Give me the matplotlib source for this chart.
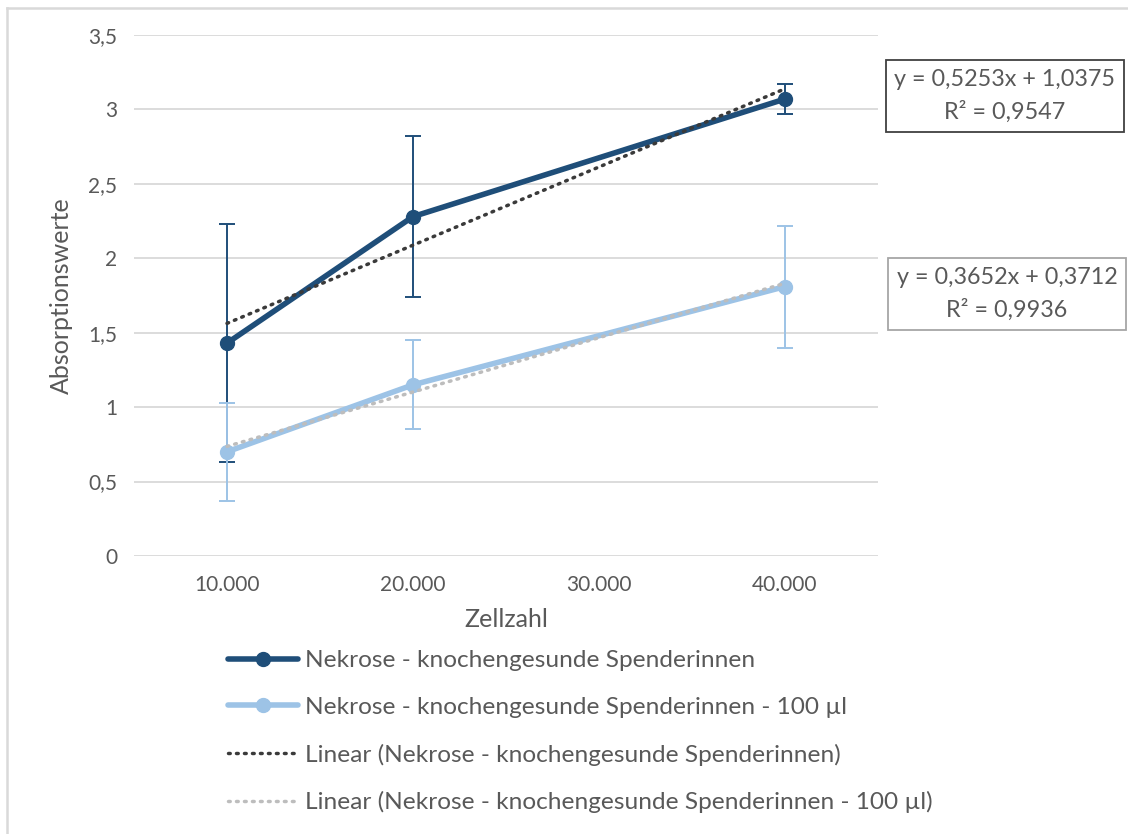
import matplotlib
matplotlib.use("Agg")
import matplotlib.pyplot as plt
from matplotlib.lines import Line2D
import numpy as np

plt.rcParams['font.family'] = ['Lato', 'DejaVu Sans']

# ---- data ----
x_positions = [1, 2, 4]
x_tick_pos = [1, 2, 3, 4]
x_tick_labels = ['10.000', '20.000', '30.000', '40.000']
y_ticks = [0, 0.5, 1, 1.5, 2, 2.5, 3, 3.5]
y_tick_labels = ['0', '0,5', '1', '1,5', '2', '2,5', '3', '3,5']

series1_name = 'Nekrose - knochengesunde Spenderinnen'
series1_values = [1.43, 2.28, 3.07]
series1_err = [0.80, 0.54, 0.10]
series2_name = 'Nekrose - knochengesunde Spenderinnen - 100 µl'
series2_values = [0.70, 1.15, 1.81]
series2_err = [0.33, 0.30, 0.41]

trend1_slope, trend1_intercept, trend1_r2 = 0.5253, 1.0375, 0.9547
trend2_slope, trend2_intercept, trend2_r2 = 0.3652, 0.3712, 0.9936
trend_x = [1, 4]

eq1_text = 'y = 0,5253x + 1,0375\nR² = 0,9547'
eq2_text = 'y = 0,3652x + 0,3712\nR² = 0,9936'

x_label = 'Zellzahl'
y_label = 'Absorptionswerte'

# ---- style ----
dark = '#1F4E79'
light = '#9DC3E6'
trend_dark = '#3a3a3a'
trend_light = '#bdbdbd'
text_col = '#595959'
grid_col = '#d9d9d9'

W, H = 1128, 834
fig = plt.figure(figsize=(W / 100, H / 100), dpi=100)
ax = fig.add_axes([134 / W, 1 - 556 / H, (878 - 134) / W, (556 - 35) / H])

for s in ax.spines.values():
    s.set_visible(False)
ax.set_xlim(0.5, 4.5)
ax.set_ylim(0, 3.5)
ax.set_yticks(y_ticks)
ax.set_yticklabels(y_tick_labels)
ax.set_xticks(x_tick_pos)
ax.set_xticklabels(x_tick_labels)
ax.tick_params(length=0, labelsize=15, colors=text_col)
ax.tick_params(axis='y', pad=12)
ax.tick_params(axis='x', pad=14)
ax.yaxis.grid(True, color=grid_col, linewidth=1.3)
ax.set_axisbelow(True)

ax.set_xlabel(x_label, fontsize=18, color=text_col, labelpad=9)
ax.set_ylabel(y_label, fontsize=18, color=text_col, labelpad=11)

# error bars
ax.errorbar(x_positions, series1_values, yerr=series1_err, fmt='none',
            ecolor=dark, elinewidth=1.4, capsize=5.5, capthick=1.4, zorder=2)
ax.errorbar(x_positions, series2_values, yerr=series2_err, fmt='none',
            ecolor=light, elinewidth=1.4, capsize=5.5, capthick=1.4, zorder=2)

# lines
l1, = ax.plot(x_positions, series1_values, color=dark, lw=4, marker='o',
              markersize=10, solid_capstyle='round', zorder=4, label=series1_name)
l2, = ax.plot(x_positions, series2_values, color=light, lw=4, marker='o',
              markersize=10, solid_capstyle='round', zorder=3, label=series2_name)

# trendlines
tx = np.array(trend_x, dtype=float)
t1, = ax.plot(tx, trend1_slope * tx + trend1_intercept, color=trend_dark, lw=2.5,
              linestyle=(0, (0.5, 1.8)), dash_capstyle='round', zorder=5,
              label='Linear (' + series1_name + ')')
t2, = ax.plot(tx, trend2_slope * tx + trend2_intercept, color=trend_light, lw=2.5,
              linestyle=(0, (0.5, 1.8)), dash_capstyle='round', zorder=5,
              label='Linear (' + series2_name + ')')

# equation boxes
fig.text(1005 / W, 1 - 96 / H, eq1_text, ha='center', va='center', fontsize=16.8,
         color=text_col, linespacing=1.6,
         bbox=dict(boxstyle='square,pad=0.38', fc='white', ec='#404040', lw=1.3))
fig.text(1007 / W, 1 - 294 / H, eq2_text, ha='center', va='center', fontsize=16.8,
         color=text_col, linespacing=1.6,
         bbox=dict(boxstyle='square,pad=0.38', fc='white', ec='#a6a6a6', lw=1.3))

# legend
leg = fig.legend(handles=[l1, l2, t1, t2], loc='upper left',
                 bbox_to_anchor=(228 / W, 1 - 650 / H), frameon=False,
                 fontsize=17.6, handlelength=2.85, handletextpad=0.3,
                 labelspacing=1.05, borderpad=0, borderaxespad=0)
for t in leg.get_texts():
    t.set_color(text_col)

# outer border
fig.add_artist(Line2D([7 / W, 1], [1 - 8 / H, 1 - 8 / H], color='#d9d9d9', lw=1.8,
                      transform=fig.transFigure))
fig.add_artist(Line2D([7 / W, 7 / W], [0, 1 - 8 / H], color='#d9d9d9', lw=1.8,
                      transform=fig.transFigure))

fig.savefig('out.png', dpi=100)
